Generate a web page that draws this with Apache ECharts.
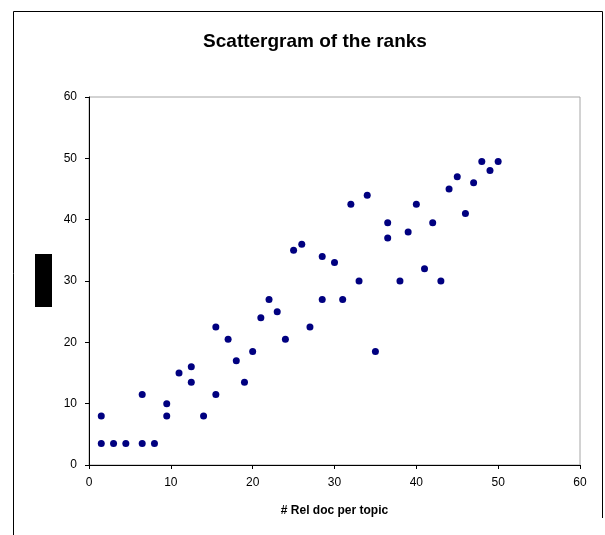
<!DOCTYPE html>
<html>
<head>
<meta charset="utf-8">
<script src="https://cdn.jsdelivr.net/npm/echarts@6/dist/echarts.min.js"></script>
<style>html,body{margin:0;padding:0;background:#fff;}#c{width:605px;height:535px;}</style>
</head>
<body>
<div id="c"></div>
<script>
const titleText = "Scattergram of the ranks";
const xAxisName = "# Rel doc per topic";
const xTicks = [0, 10, 20, 30, 40, 50, 60];
const yTicks = [0, 10, 20, 30, 40, 50, 60];
const relDocs = [1.5, 1.5, 3, 4.5, 6.5, 8, 6.5, 9.5, 9.5, 11, 12.5, 12.5, 14, 15.5, 15.5, 17, 18, 19, 20, 21, 22, 23,
  24, 27, 25, 26, 28.5, 30, 28.5, 31, 33, 35, 32, 34, 36.5, 36.5, 38, 39, 40, 41, 42, 43, 44, 45, 46, 47, 48, 49, 50];
const ranks = [8, 3.5, 3.5, 3.5, 3.5, 3.5, 11.5, 10, 8, 15, 16, 13.5, 8, 22.5, 11.5, 20.5, 17, 13.5, 18.5, 24, 27, 25,
  20.5, 22.5, 35, 36, 34, 33, 27, 27, 30, 18.5, 42.5, 44, 39.5, 37, 30, 38, 42.5, 32, 39.5, 30, 45, 47, 41, 46, 49.5, 48, 49.5];

const points = relDocs.map((x, i) => [x, ranks[i]]);
const FONT = "'Liberation Sans', Arial, sans-serif";

const chart = echarts.init(document.getElementById('c'), null, {renderer: 'canvas'});
chart.setOption({
  animation: false,
  backgroundColor: '#ffffff',
  title: {
    text: titleText,
    left: 310,
    top: 27,
    textAlign: 'center',
    textStyle: {fontFamily: FONT, fontSize: 19, fontWeight: 'bold', color: '#000'}
  },
  grid: {
    left: 89, top: 97, width: 491, height: 368,
    show: true, borderColor: '#a6a6a6', borderWidth: 1, backgroundColor: 'transparent'
  },
  xAxis: {
    type: 'value', min: xTicks[0], max: xTicks[xTicks.length - 1], interval: 10,
    name: xAxisName, nameLocation: 'middle', nameGap: 40,
    nameTextStyle: {fontFamily: FONT, fontSize: 12, fontWeight: 'bold', color: '#000'},
    axisLine: {show: true, onZero: false, lineStyle: {color: '#000', width: 1}},
    axisTick: {show: true, inside: false, length: 4, lineStyle: {color: '#000'}},
    axisLabel: {fontFamily: FONT, fontSize: 12, color: '#000', margin: 12},
    splitLine: {show: false}
  },
  yAxis: {
    type: 'value', min: yTicks[0], max: yTicks[yTicks.length - 1], interval: 10,
    axisLine: {show: true, onZero: false, lineStyle: {color: '#000', width: 1}},
    axisTick: {show: true, inside: false, length: 4, lineStyle: {color: '#000'}},
    axisLabel: {fontFamily: FONT, fontSize: 12, color: '#000', margin: 12},
    splitLine: {show: false}
  },
  series: [{
    type: 'scatter',
    data: points,
    symbol: 'circle',
    symbolSize: 7,
    itemStyle: {color: '#000080', opacity: 1}
  }],
  graphic: [
    {type: 'line', shape: {x1: 13.5, y1: 11.5, x2: 602.5, y2: 11.5}, style: {stroke: '#000', lineWidth: 1}},
    {type: 'line', shape: {x1: 13.5, y1: 11.5, x2: 13.5, y2: 535}, style: {stroke: '#000', lineWidth: 1}},
    {type: 'line', shape: {x1: 602.5, y1: 11.5, x2: 602.5, y2: 518}, style: {stroke: '#000', lineWidth: 1}},
    {type: 'rect', shape: {x: 35, y: 254, width: 17, height: 53}, style: {fill: '#000'}}
  ]
});
</script>
</body>
</html>
